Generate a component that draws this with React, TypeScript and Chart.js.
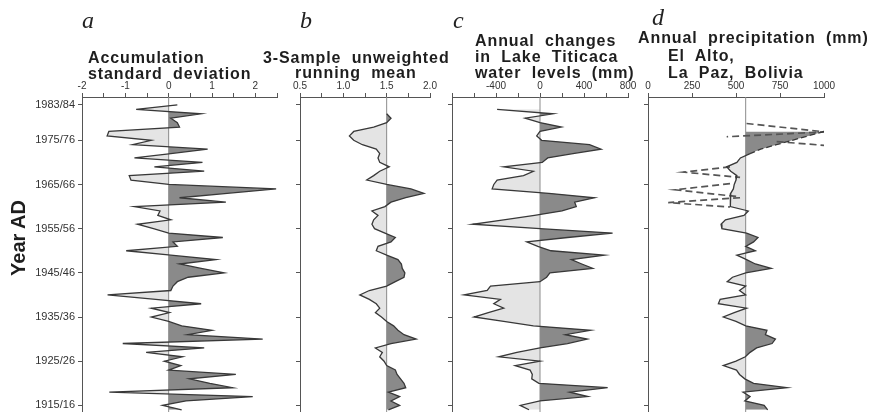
import React, { useEffect, useRef } from 'react';
import { Chart, registerables } from 'chart.js';

// ---------------- DATA ----------------
const years = [
  1983, 1982, 1981, 1980, 1979, 1978, 1977, 1976, 1975, 1974,
  1973, 1972, 1971, 1970, 1969, 1968, 1967, 1966, 1965, 1964,
  1963, 1962, 1961, 1960, 1959, 1958, 1957, 1956, 1955, 1954,
  1953, 1952, 1951, 1950, 1949, 1948, 1947, 1946, 1945, 1944,
  1943, 1942, 1941, 1940, 1939, 1938, 1937, 1936, 1935, 1934,
  1933, 1932, 1931, 1930, 1929, 1928, 1927, 1926, 1925, 1924,
  1923, 1922, 1921, 1920, 1919, 1918, 1917, 1916, 1915, 1914,
];

// a: accumulation standard deviation
const accumulationSD = [
  0.2, -0.75, 0.75, 0.05, 0.2, 0.25, -1.38, -1.42, -0.4, -0.83,
  0.9, 0.05, -0.79, 0.78, -0.33, 0.82, -0.91, -0.87, 0.0, 2.48,
  1.35, 0.25, 1.32, -0.79, -0.2, -0.25, 0.05, -0.72, -0.35, 0.0,
  1.25, 0.1, 0.2, -0.98, 0.05, 1.09, 0.25, 0.75, 1.28, 0.45,
  0.2, 0.1, 0.05, -1.41, -0.3, 0.75, -0.4, 0.02, -0.4, 0.0,
  0.3, 1.0, 0.44, 2.17, -1.06, 0.82, -0.52, 0.32, -0.1, 0.28,
  0.0, 1.55, 0.48, 0.95, 1.48, -1.37, 1.94, 0.4, -0.14, 0.3,
];

// b: 3-sample unweighted running mean
const runningMean = [
  null, null, 1.5, 1.55, 1.5, 1.35, 1.12, 1.07, 1.12, 1.22,
  1.38, 1.42, 1.4, 1.42, 1.53, 1.42, 1.35, 1.27, 1.5, 1.78,
  1.93, 1.72, 1.55, 1.48, 1.33, 1.4, 1.35, 1.33, 1.36, 1.48,
  1.6, 1.55, 1.4, 1.38, 1.5, 1.63, 1.67, 1.68, 1.71, 1.7,
  1.6, 1.5, 1.3, 1.19, 1.3, 1.38, 1.42, 1.37, 1.44, 1.5,
  1.58, 1.63, 1.7, 1.84, 1.55, 1.37, 1.45, 1.42, 1.47, 1.5,
  1.6, 1.62, 1.66, 1.7, 1.72, 1.52, 1.65, 1.55, 1.65, 1.52,
];

// c: annual changes in Lake Titicaca water levels (mm)
const lakeChange = [
  null, -390, 120, -135, 0, 195, 0, -30, 15, 450,
  555, 300, 70, 20, -330, -60, -150, -390, -420, -435,
  80, 495, 315, 330, 200, -50, -330, -613, 0, 660,
  250, -120, -20, 100, 585, 285, 380, 480, 90, 60,
  0, -450, -480, -690, -360, -420, -330, -470, -600, -330,
  -60, 460, 230, 430, 250, 0, -210, -375, 0, -225,
  -90, -70, -75, -10, 615, 270, 435, 0, -180, -100,
];

// d: annual precipitation (mm), El Alto
const precipitation = [
  null, null, null, null, null, null, 1000, 910, 820, 730,
  640, 580, 525, 505, 447, 470, 505, 500, 490, 485,
  470, 470, 468, 466, 570, 545, 440, 415, 420, 560,
  625, 600, 555, 610, 505, 560, 610, 700, 555, 480,
  450, 555, 520, 555, 410, 400, 560, 490, 428, 500,
  555, 676, 667, 724, 705, 617, 580, 553, 500, 428,
  503, 520, 550, 600, 790, 540, 580, 550, 660, 680,
];
// uncertain precipitation estimates (mm, year) drawn dashed
const precipRangeLines = [
  [[560, 1978.8], [1006, 1976.9], [447, 1975.8]],
  [[731, 1974.7], [1053, 1973.7]],
  [[466, 1969.0], [201, 1967.8], [523, 1966.6]],
  [[466, 1965.2], [153, 1963.8], [523, 1962.2]],
  [[523, 1962.0], [115, 1960.9], [466, 1959.9]],
];

const yearTicks = [1983, 1975, 1965, 1955, 1945, 1935, 1925, 1915];
const ticksA = [-2, -1.5, -1, -0.5, 0, 0.5, 1, 1.5, 2, 2.5];
const labelsA = [-2, -1, 0, 1, 2];
const ticksB = [0.5, 0.75, 1, 1.25, 1.5, 1.75, 2];
const labelsB = [0.5, 1, 1.5, 2];
const ticksC = [-800, -600, -400, -200, 0, 200, 400, 600, 800];
const labelsC = [-400, 0, 400, 800];
const ticksD = [0, 250, 500, 750, 1000];
const labelsD = [0, 250, 500, 750, 1000];

// ---------------- PLUGIN: clip fills to one side of the baseline ----------------
const sideClipPlugin = {
  id: 'sideClip',
  beforeDatasetDraw(chart: any, args: any) {
    const ds = chart.data.datasets[args.index];
    if (!ds || !ds.fillSide) return;
    const area = chart.chartArea;
    const px = chart.scales.x.getPixelForValue(ds.fillBase);
    const ctx = chart.ctx;
    ctx.save();
    ctx.beginPath();
    if (ds.fillSide === 'right') ctx.rect(px, area.top, area.right - px, area.bottom - area.top);
    else ctx.rect(area.left, area.top, px - area.left, area.bottom - area.top);
    ctx.clip();
  },
  afterDatasetDraw(chart: any, args: any) {
    const ds = chart.data.datasets[args.index];
    if (!ds || !ds.fillSide) return;
    chart.ctx.restore();
  },
};
Chart.register(sideClipPlugin as any);
Chart.register(...registerables);

const Y_MIN = 1913.5;
const Y_MAX = 1984.8;
const FONT = "'Liberation Sans', Arial, sans-serif";
const DARK = '#8a8a8a';
const LIGHT = '#e4e4e4';
const LINE = '#383838';
const AXIS = '#555555';

type PanelCfg = {
  canvasLeft: number;
  canvasWidth: number;
  yWidth: number;
  padRight: number;
  min: number;
  max: number;
  ticks: number[];
  labels: number[];
  fmt: (v: number) => string;
  base: number;
  values: (number | null)[];
  showYLabels: boolean;
  dashedFirst?: number;
  extraLines?: number[][][];
};

const panels: PanelCfg[] = [
  { canvasLeft: 0, canvasWidth: 285, yWidth: 82, padRight: 8, min: -2, max: 2.5, ticks: ticksA, labels: labelsA,
    fmt: (v) => String(v), base: 0, values: accumulationSD, showYLabels: true },
  { canvasLeft: 288, canvasWidth: 157, yWidth: 12, padRight: 15, min: 0.5, max: 2.0, ticks: ticksB, labels: labelsB,
    fmt: (v) => v.toFixed(1), base: 1.5, values: runningMean, showYLabels: false },
  { canvasLeft: 440, canvasWidth: 203, yWidth: 12, padRight: 15, min: -800, max: 800, ticks: ticksC, labels: labelsC,
    fmt: (v) => String(v), base: 0, values: lakeChange, showYLabels: false },
  { canvasLeft: 636, canvasWidth: 208, yWidth: 12, padRight: 20, min: 0, max: 1000, ticks: ticksD, labels: labelsD,
    fmt: (v) => String(v), base: 555, values: precipitation, showYLabels: false, dashedFirst: 5,
    extraLines: precipRangeLines },
];

function yearLabel(v: number) {
  return `${v}/${String((v + 1) % 100).padStart(2, '0')}`;
}

function buildConfig(cfg: PanelCfg): any {
  const pts: { x: number; y: number }[] = [];
  years.forEach((y, i) => {
    const v = cfg.values[i];
    if (v !== null && v !== undefined) pts.push({ x: v, y });
  });
  const datasets: any[] = [
    {
      data: pts, borderColor: LINE, borderWidth: 1.3, pointRadius: 0, fill: false, tension: 0, order: 0,
      segment: cfg.dashedFirst
        ? { borderDash: (c: any) => (c.p0DataIndex < cfg.dashedFirst! ? [6, 3] : undefined) }
        : undefined,
    },
    {
      data: [{ x: cfg.base, y: Y_MIN }, { x: cfg.base, y: Y_MAX }],
      borderColor: '#8c8c8c', borderWidth: 1, pointRadius: 0, fill: false, order: 2,
    },
    {
      data: pts, borderWidth: 0, borderColor: 'transparent', pointRadius: 0, tension: 0,
      backgroundColor: DARK, fill: { value: cfg.base }, fillSide: 'right', fillBase: cfg.base, order: 3,
    },
    {
      data: pts, borderWidth: 0, borderColor: 'transparent', pointRadius: 0, tension: 0,
      backgroundColor: LIGHT, fill: { value: cfg.base }, fillSide: 'left', fillBase: cfg.base, order: 4,
    },
  ];
  (cfg.extraLines || []).forEach((line) => {
    datasets.push({
      data: line.map(([x, y]) => ({ x, y })),
      borderColor: '#555555', borderWidth: 1.7, borderDash: [7, 4], pointRadius: 0, fill: false, tension: 0, order: 1,
    });
  });

  return {
    type: 'line',
    data: { datasets },
    options: {
      indexAxis: 'y',
      animation: false,
      responsive: false,
      maintainAspectRatio: false,
      events: [],
      layout: { padding: { left: 0, right: cfg.padRight, top: 0, bottom: 0 } },
      plugins: { legend: { display: false }, tooltip: { enabled: false }, title: { display: false } },
      scales: {
        x: {
          type: 'linear', position: 'top', min: cfg.min, max: cfg.max,
          afterBuildTicks: (s: any) => { s.ticks = cfg.ticks.map((v) => ({ value: v })); },
          afterFit: (s: any) => { s.height = 97; s.paddingLeft = 0; s.paddingRight = 0; },
          ticks: {
            autoSkip: false, maxRotation: 0, padding: 1, color: '#333',
            font: { family: FONT, size: 10 },
            callback: (v: any) => (cfg.labels.includes(Number(v)) ? cfg.fmt(Number(v)) : ''),
          },
          grid: { drawOnChartArea: false, drawTicks: true, tickLength: 4, color: AXIS, lineWidth: 1 },
          border: { display: true, color: AXIS, width: 1 },
        },
        y: {
          type: 'linear', position: 'left', min: Y_MIN, max: Y_MAX,
          afterBuildTicks: (s: any) => { s.ticks = yearTicks.map((v) => ({ value: v })); },
          afterFit: (s: any) => { s.width = cfg.yWidth; s.paddingTop = 0; s.paddingBottom = 0; },
          ticks: {
            autoSkip: false, padding: 3, color: '#333',
            font: { family: FONT, size: 11 },
            callback: (v: any) => (cfg.showYLabels ? yearLabel(Number(v)) : ''),
          },
          grid: { drawOnChartArea: false, drawTicks: true, tickLength: 4, color: AXIS, lineWidth: 1 },
          border: { display: true, color: AXIS, width: 1 },
        },
      },
    },
  };
}

function PanelChart({ cfg }: { cfg: PanelCfg }) {
  const ref = useRef<HTMLCanvasElement>(null);
  useEffect(() => {
    if (!ref.current) return;
    const chart = new Chart(ref.current, buildConfig(cfg));
    return () => chart.destroy();
  }, [cfg]);
  return (
    <canvas
      ref={ref}
      width={cfg.canvasWidth}
      height={412}
      style={{ position: 'absolute', left: cfg.canvasLeft, top: 0, width: cfg.canvasWidth, height: 412 }}
    />
  );
}

// ---------------- TEXT ----------------
const titleLines: { text: string; x: number; base: number }[] = [
  { text: 'Accumulation', x: 88, base: 63 },
  { text: 'standard deviation', x: 88, base: 78.5 },
  { text: '3-Sample unweighted', x: 263, base: 62.5 },
  { text: 'running mean', x: 295, base: 77.5 },
  { text: 'Annual changes', x: 475, base: 45.5 },
  { text: 'in Lake Titicaca', x: 475, base: 62 },
  { text: 'water levels (mm)', x: 475, base: 77.5 },
  { text: 'Annual precipitation (mm)', x: 638, base: 43 },
  { text: 'El Alto,', x: 668, base: 61 },
  { text: 'La Paz, Bolivia', x: 668, base: 77.7 },
];
const panelLetters: { text: string; x: number; base: number }[] = [
  { text: 'a', x: 82, base: 28 },
  { text: 'b', x: 300, base: 27.7 },
  { text: 'c', x: 453, base: 28 },
  { text: 'd', x: 652, base: 25 },
];

export default function App() {
  return (
    <div style={{ position: 'fixed', left: 0, top: 0, width: 883, height: 412, background: '#fff', overflow: 'hidden' }}>
      {panels.map((p, i) => (
        <PanelChart key={i} cfg={p} />
      ))}
      {titleLines.map((t, i) => (
        <div
          key={'t' + i}
          style={{
            position: 'absolute', left: t.x, top: t.base - 13, font: `bold 16px ${FONT}`, lineHeight: '15px',
            whiteSpace: 'pre', letterSpacing: '0.9px', wordSpacing: '5px', color: '#1e1e1e', pointerEvents: 'none',
          }}
        >
          {t.text}
        </div>
      ))}
      {panelLetters.map((t, i) => (
        <div
          key={'l' + i}
          style={{
            position: 'absolute', left: t.x, top: t.base - 20, font: "italic 24px 'Liberation Serif', serif",
            lineHeight: '24px', color: '#222', pointerEvents: 'none',
          }}
        >
          {t.text}
        </div>
      ))}
      <div
        style={{
          position: 'absolute', left: 19 - 60, top: 238 - 12, width: 120, height: 24, lineHeight: '24px',
          textAlign: 'center', font: `bold 20px ${FONT}`, color: '#1e1e1e', transform: 'rotate(-90deg)',
        }}
      >
        Year AD
      </div>
    </div>
  );
}
